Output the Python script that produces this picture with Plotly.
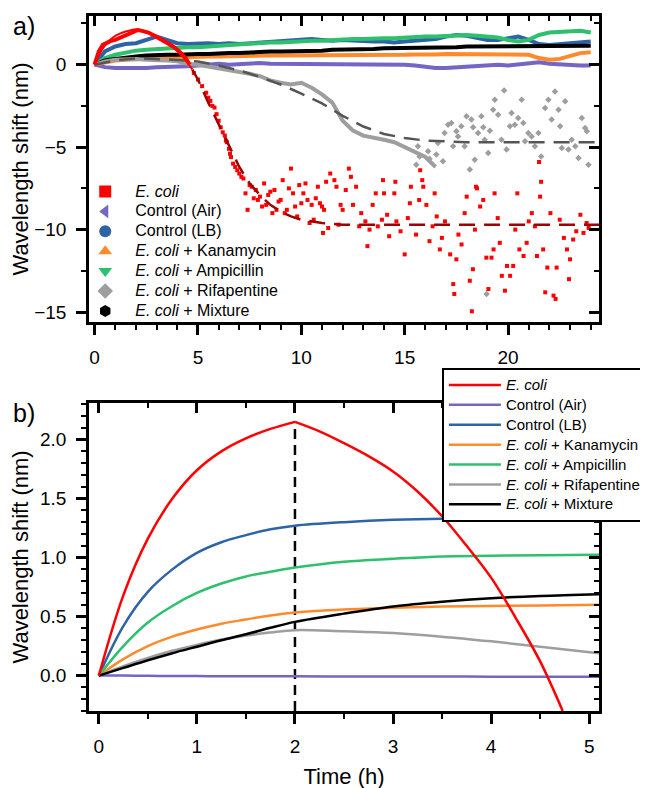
import plotly.graph_objects as go

# ---------- panel a: 24 h measurements ----------
t_grid = [0, 0.5, 1, 1.5, 2, 2.5, 3, 3.5, 4, 4.5, 5, 5.5, 6, 6.5, 7, 7.5, 8, 8.5, 9, 9.5,
          10, 10.5, 11, 11.5, 12, 12.5, 13, 13.5, 14, 14.5, 15, 15.5, 16, 16.5, 17, 17.5,
          18, 18.5, 19, 19.5, 20, 20.5, 21, 21.5, 22, 22.5, 23, 23.5, 24]

air = [0, -0.15, -0.2, -0.2, -0.25, -0.2, -0.15, -0.15, -0.1, -0.1, -0.05, 0, 0.05, 0, 0.05,
       0.05, 0.1, 0.05, 0.05, 0.05, 0, 0.05, 0.05, 0, 0.05, 0.05, 0, 0.05, 0, 0, 0, -0.05,
       -0.15, -0.2, -0.2, -0.15, -0.15, -0.1, 0, 0, -0.05, 0, 0.1, 0.15, 0.05, 0, 0, -0.05, -0.05]
lb = [0, 0.8, 1.1, 1.25, 1.3, 1.5, 1.7, 1.5, 1.3, 1.25, 1.3, 1.3, 1.25, 1.3, 1.25, 1.3, 1.3,
      1.35, 1.4, 1.45, 1.5, 1.55, 1.5, 1.45, 1.5, 1.45, 1.4, 1.4, 1.4, 1.35, 1.4, 1.45, 1.5,
      1.55, 1.7, 1.8, 1.75, 1.6, 1.5, 1.5, 1.6, 1.7, 1.5, 1.25, 1.2, 1.25, 1.3, 1.3, 1.4]
kan = [0, 0.15, 0.25, 0.3, 0.35, 0.38, 0.4, 0.42, 0.45, 0.48, 0.5, 0.5, 0.5, 0.52, 0.53, 0.55,
       0.55, 0.55, 0.55, 0.55, 0.55, 0.55, 0.55, 0.57, 0.55, 0.57, 0.6, 0.6, 0.6, 0.6, 0.6, 0.62,
       0.6, 0.62, 0.65, 0.65, 0.65, 0.65, 0.65, 0.65, 0.65, 0.65, 0.6, 0.4, 0.3, 0.35, 0.55, 0.7, 0.75]
amp = [0, 0.4, 0.6, 0.75, 0.85, 0.9, 0.95, 1.0, 1.0, 1.05, 1.05, 1.1, 1.1, 1.15, 1.2, 1.25, 1.3,
       1.35, 1.35, 1.4, 1.4, 1.45, 1.45, 1.5, 1.5, 1.55, 1.55, 1.6, 1.6, 1.6, 1.65, 1.65, 1.7, 1.7,
       1.75, 1.8, 1.8, 1.75, 1.7, 1.65, 1.5, 1.4, 1.5, 1.8, 1.95, 2.0, 2.0, 2.05, 1.95]
mix = [0, 0.25, 0.35, 0.45, 0.5, 0.55, 0.6, 0.6, 0.6, 0.65, 0.65, 0.65, 0.7, 0.7, 0.7, 0.75,
       0.75, 0.8, 0.8, 0.8, 0.85, 0.85, 0.85, 0.9, 0.9, 0.9, 0.95, 0.95, 1.0, 1.0, 1.0, 1.0, 1.05,
       1.05, 1.05, 1.05, 1.1, 1.1, 1.1, 1.1, 1.1, 1.1, 1.1, 1.15, 1.1, 1.15, 1.15, 1.15, 1.15]

# rifapentine: continuous part then scattered points
rif_line_t = t_grid[:34]
rif_line_v = [0, 0.2, 0.3, 0.35, 0.35, 0.3, 0.3, 0.25, 0.2, 0.05, 0, -0.1, -0.2, -0.35, -0.45,
              -0.55, -0.7, -0.95, -1.1, -1.2, -1.1, -1.4, -1.8, -2.3, -3.4, -4.0, -4.3, -4.4,
              -4.55, -4.7, -5.0, -5.3, -5.6, -6.2]
rif_pts_t = [15.56, 15.64, 15.72, 16.13, 16.2, 16.53, 16.61, 16.85, 16.93, 17.1, 17.26, 17.34,
             17.5, 17.58, 17.74, 17.9, 17.99, 18.15, 18.23, 18.31, 18.39, 18.55, 18.71, 18.8,
             18.87, 18.96, 19.04, 19.12, 19.28, 19.36, 19.52, 19.68, 19.81, 19.93, 20.09, 20.17,
             20.33, 20.49, 20.66, 20.74, 20.82, 20.98, 21.14, 21.3, 21.47, 21.6, 21.79, 21.95,
             22.11, 22.27, 22.44, 22.52, 22.6, 22.76, 22.92, 23.08, 23.25, 23.41, 23.57, 23.73,
             23.81, 23.89]
rif_pts_v = [-6.06, -4.95, -5.56, -5.25, -5.7, -5.45, -4.75, -5.86, -4.14, -3.64, -3.53, -4.95,
             -4.04, -4.35, -3.74, -4.95, -3.13, -6.36, -3.33, -3.8, -5.76, -4.14, -3.13, -3.8,
             -4.55, -13.9, -5.35, -4.0, -2.73, -2.12, -3.03, -4.55, -1.56, -5.15, -3.74, -2.93,
             -3.64, -3.23, -2.12, -3.53, -4.65, -4.14, -4.35, -4.95, -4.14, -5.56, -2.63, -2.12,
             -3.33, -1.62, -2.73, -3.74, -5.05, -2.22, -5.15, -4.55, -4.95, -5.66, -3.23, -3.84,
             -4.04, -6.06]

# E. coli: early band then scattered points
ecoli_band_t = [0, 0.2, 0.4, 0.6, 0.8, 1.0, 1.3, 1.6, 1.9, 2.1, 2.3, 2.6, 2.9, 3.2, 3.5, 3.8,
                4.1, 4.4, 4.6]
ecoli_band_v = [0, 0.8, 1.2, 1.35, 1.45, 1.5, 1.65, 1.8, 2.0, 2.1, 2.05, 1.95, 1.75, 1.55, 1.35,
                1.1, 0.8, 0.4, 0.0]
ecoli_pts_t = [4.8, 5.0, 5.2, 5.4, 5.5, 5.6, 5.7, 5.8, 5.9, 6.0, 6.1, 6.2, 6.3, 6.35, 6.4, 6.5,
               6.55, 6.6, 6.7, 6.8, 6.9, 7.0, 7.1, 7.2, 7.3, 7.4, 7.5, 7.6, 7.7, 7.8, 7.9, 8.0,
               8.1, 8.2, 8.3, 8.4, 8.5, 8.6, 8.7, 8.8, 8.9, 9.0, 9.1, 9.2, 9.3, 9.4, 9.5, 9.6,
               9.7, 9.8, 9.9, 10.0, 10.1, 10.2, 10.3, 10.4, 10.5, 10.6, 10.7, 10.8, 10.9, 11.0,
               11.05, 11.1, 11.2, 11.3, 11.4, 11.6, 11.7, 11.8, 11.9, 12.0, 12.15, 12.3, 12.4,
               12.5, 12.65, 12.8, 12.9, 13.1, 13.2, 13.3, 13.45, 13.6, 13.7, 13.9, 13.95, 14.0,
               14.15, 14.25, 14.5, 14.55, 14.6, 14.8, 15.0, 15.15, 15.25, 15.3, 15.55, 15.7,
               15.75, 15.85, 15.9, 16.05, 16.2, 16.35, 16.45, 16.55, 16.7, 16.8, 16.95, 17.2,
               17.35, 17.4, 17.5, 17.6, 17.75, 17.9, 18.0, 18.15, 18.25, 18.3, 18.4, 18.45, 18.5,
               18.65, 18.8, 18.95, 19.05, 19.2, 19.3, 19.35, 19.5, 19.6, 19.7, 19.85, 19.95, 20.1,
               20.25, 20.35, 20.45, 20.55, 20.75, 20.9, 21.0, 21.15, 21.3, 21.4, 21.5, 21.55,
               21.6, 21.7, 21.8, 21.9, 22.05, 22.2, 22.3, 22.35, 22.5, 22.7, 22.85, 22.95, 23.0,
               23.15, 23.3, 23.5, 23.65, 23.8, 23.9]
ecoli_pts_v = [-0.5, -0.9, -1.3, -1.7, -2.0, -2.2, -2.5, -2.6, -3.0, -3.4, -3.8, -4.1, -4.3,
               -4.6, -4.7, -5.1, -5.4, -5.6, -6.0, -6.2, -6.4, -6.6, -6.8, -6.9, -7.8, -8.8,
               -7.3, -7.4, -8.1, -7.6, -8.2, -8.0, -8.6, -7.2, -8.5, -7.9, -7.7, -9.0, -7.6,
               -8.8, -8.3, -8.2, -7.0, -9.0, -8.8, -7.5, -6.3, -7.8, -8.6, -9.2, -7.3, -8.4,
               -7.8, -7.2, -8.2, -9.6, -8.5, -9.4, -8.1, -7.4, -8.4, -8.6, -10.2, -8.8, -7.1,
               -9.9, -6.6, -7.0, -7.4, -9.7, -8.5, -8.8, -7.6, -6.3, -6.8, -8.5, -7.4, -9.8,
               -9.0, -9.5, -11.0, -10.0, -8.5, -7.8, -9.8, -9.4, -7.0, -7.8, -9.1, -10.4, -7.8,
               -7.1, -9.5, -10.1, -11.5, -9.3, -8.4, -7.4, -10.3, -8.2, -6.4, -7.0, -7.4, -8.5,
               -10.7, -9.8, -7.8, -9.2, -11.2, -10.5, -9.5, -11.5, -13.3, -13.9, -11.8, -10.3,
               -10.9, -9.0, -8.0, -13.1, -14.95, -12.4, -10.0, -7.4, -7.5, -8.6, -8.2, -11.7,
               -13.6, -11.7, -11.2, -7.8, -9.3, -10.8, -12.8, -13.7, -12.2, -12.8, -12.2, -10.0,
               -7.8, -11.2, -11.6, -10.8, -9.5, -9.0, -9.8, -11.6, -5.9, -8.0, -7.1, -11.2,
               -13.8, -12.3, -9.0, -14.0, -14.2, -12.3, -9.4, -10.5, -11.2, -13.0, -11.8, -10.6,
               -10.1, -9.1, -10.2, -9.6, -9.9]

# fitted trends in panel a
ecoli_tail_t = [4.73, 5, 5.5, 6, 6.5, 7, 7.5, 8, 8.5, 9, 9.5, 10, 11, 12, 13, 24.4]
ecoli_tail_v = [-0.3, -0.9, -2.3, -3.6, -5.0, -6.2, -7.2, -7.9, -8.5, -8.9, -9.2, -9.4, -9.6,
                -9.7, -9.7, -9.7]
rif_fit_t = [0, 1, 2, 3, 4, 5, 6, 7, 8, 9, 10, 11, 12, 13, 14, 15, 16, 18, 24.4]
rif_fit_v = [0, 0.26, 0.385, 0.36, 0.29, 0.19, -0.05, -0.35, -0.75, -1.2, -1.75, -2.35, -3.1,
             -3.75, -4.2, -4.45, -4.6, -4.7, -4.7]

# ---------- panel b: fits over first 5 h ----------
fit_t = [0, 0.25, 0.5, 0.75, 1, 1.25, 1.5, 1.75, 2, 2.5, 3, 3.5, 4, 4.5, 5.1]
ecoli_rise_t = [0, 0.25, 0.5, 0.75, 1, 1.25, 1.5, 1.75, 2]
ecoli_rise_v = [0, 0.68, 1.16, 1.50, 1.74, 1.90, 2.01, 2.09, 2.15]
ecoli_fall_t = [2, 2.25, 2.5, 2.75, 3, 3.25, 3.5, 3.75, 4, 4.25, 4.5, 4.73]
ecoli_fall_v = [2.15, 2.07, 1.97, 1.86, 1.73, 1.56, 1.35, 1.10, 0.83, 0.49, 0.12, -0.30]
air_fit = [0, 0, -0.002, -0.003, -0.004, -0.005, -0.005, -0.006, -0.006, -0.007, -0.008,
           -0.008, -0.009, -0.01, -0.01]
lb_fit = [0, 0.42, 0.71, 0.90, 1.04, 1.13, 1.19, 1.24, 1.27, 1.30, 1.32, 1.33, 1.33, 1.335, 1.335]
kan_fit = [0, 0.14, 0.25, 0.33, 0.39, 0.44, 0.475, 0.51, 0.535, 0.56, 0.575, 0.585, 0.59, 0.595, 0.60]
amp_fit = [0, 0.25, 0.45, 0.59, 0.70, 0.78, 0.84, 0.88, 0.915, 0.965, 0.99, 1.01, 1.015, 1.02, 1.025]
rif_fit_b = [0, 0.08, 0.15, 0.21, 0.26, 0.305, 0.34, 0.365, 0.385, 0.375, 0.36, 0.33, 0.29, 0.245, 0.19]
mix_fit = [0, 0.065, 0.13, 0.19, 0.245, 0.30, 0.35, 0.405, 0.455, 0.525, 0.585, 0.625, 0.655, 0.675, 0.69]
peak_t = 2
b_ymin = -0.3

names = ["<i>E. coli</i>", "Control (Air)", "Control (LB)", "<i>E. coli</i> + Kanamycin",
         "<i>E. coli</i> + Ampicillin", "<i>E. coli</i> + Rifapentine", "<i>E. coli</i> + Mixture"]
colors = ["#FF0000", "#7466C4", "#2E64A6", "#FF8A2B", "#2EC06C", "#9E9E9E", "#000000"]
symbols = ["square", "triangle-left", "circle", "triangle-up", "triangle-down", "diamond", "hexagon"]


def big(label, px=16):
    # legend rows stay 20px apart (small legend font) while the text itself is larger
    return '<span style="font-size:%gpx">' % px + label + "</span>"


fig = go.Figure()

# panel a data
for vals, c in [(air, colors[1]), (lb, colors[2]), (amp, colors[4]), (kan, colors[3]), (mix, colors[6])]:
    fig.add_trace(go.Scatter(x=t_grid, y=vals, mode="lines", line=dict(color=c, width=4),
                             showlegend=False, xaxis="x", yaxis="y"))
fig.add_trace(go.Scatter(x=rif_line_t, y=rif_line_v, mode="lines", line=dict(color=colors[5], width=4),
                         showlegend=False, xaxis="x", yaxis="y"))
fig.add_trace(go.Scatter(x=rif_pts_t, y=rif_pts_v, mode="markers",
                         marker=dict(color=colors[5], symbol="diamond", size=5),
                         showlegend=False, xaxis="x", yaxis="y"))
fig.add_trace(go.Scatter(x=rif_fit_t, y=rif_fit_v, mode="lines",
                         line=dict(color="#555555", width=2.5, dash="16px,9px"),
                         showlegend=False, xaxis="x", yaxis="y"))
fig.add_trace(go.Scatter(x=ecoli_band_t, y=ecoli_band_v, mode="lines", line=dict(color=colors[0], width=4),
                         showlegend=False, xaxis="x", yaxis="y"))
fig.add_trace(go.Scatter(x=ecoli_pts_t, y=ecoli_pts_v, mode="markers",
                         marker=dict(color=colors[0], symbol="square", size=4),
                         showlegend=False, xaxis="x", yaxis="y"))
fig.add_trace(go.Scatter(x=ecoli_tail_t, y=ecoli_tail_v, mode="lines",
                         line=dict(color="#A00000", width=2.5, dash="16px,9px"),
                         showlegend=False, xaxis="x", yaxis="y"))
fig.add_trace(go.Scatter(x=ecoli_rise_t + ecoli_fall_t[1:], y=ecoli_rise_v + ecoli_fall_v[1:],
                         mode="lines", line=dict(color=colors[0], width=2, shape="spline", smoothing=0.6),
                         showlegend=False, xaxis="x", yaxis="y"))

# legend entries for panel a
for n, c, s in zip(names, colors, symbols):
    fig.add_trace(go.Scatter(x=[None], y=[None], mode="markers", name=big(n),
                             marker=dict(color=c, symbol=s, size=12),
                             legend="legend", xaxis="x", yaxis="y"))

# panel b
fig.add_trace(go.Scatter(x=[peak_t, peak_t], y=[b_ymin, ecoli_rise_v[-1]], mode="lines",
                         line=dict(color="black", width=2.5, dash="10px,6px"),
                         showlegend=False, xaxis="x2", yaxis="y2"))
b_series = [air_fit, lb_fit, kan_fit, amp_fit, rif_fit_b, mix_fit]
for i, vals in enumerate(b_series):
    fig.add_trace(go.Scatter(x=fit_t, y=vals, mode="lines", name=big(names[i + 1], 15),
                             line=dict(color=colors[i + 1], width=2.5, shape="spline"),
                             legend="legend2", xaxis="x2", yaxis="y2", legendrank=i + 2))
fig.add_trace(go.Scatter(x=ecoli_rise_t, y=ecoli_rise_v, mode="lines", name=big(names[0], 15),
                         line=dict(color=colors[0], width=2.5, shape="spline"),
                         legend="legend2", xaxis="x2", yaxis="y2", legendrank=1))
fig.add_trace(go.Scatter(x=ecoli_fall_t, y=ecoli_fall_v, mode="lines",
                         line=dict(color=colors[0], width=2.5, shape="spline"),
                         showlegend=False, xaxis="x2", yaxis="y2"))

# empty traces so the mirrored (inside-tick) axes get drawn
for xa, ya in [("x3", "y"), ("x", "y3"), ("x4", "y2"), ("x2", "y4")]:
    fig.add_trace(go.Scatter(x=[], y=[], xaxis=xa, yaxis=ya, showlegend=False, hoverinfo="skip"))

font = "Arial, Liberation Sans, sans-serif"
base = dict(showline=True, linewidth=2.5, linecolor="black", mirror=True, ticks="outside",
            ticklen=10, tickwidth=2.5, tickcolor="black", showgrid=False, zeroline=False,
            tickfont=dict(size=19, color="black", family=font), ticklabelstandoff=6)
inner = dict(showline=False, ticks="inside", ticklen=10, tickwidth=2.5, tickcolor="black",
             showticklabels=False, showgrid=False, zeroline=False)
minor_out = dict(ticks="outside", ticklen=5, tickwidth=2, tickcolor="black")
minor_in = dict(ticks="inside", ticklen=5, tickwidth=2, tickcolor="black")

xa_range = [-0.27, 24.4]
ya_range = [-15.6, 2.95]
xb_range = [-0.1, 5.1]
yb_range = [-0.3, 2.31]
top_dom = [0.5597, 1]
bot_dom = [0, 0.4432]

fig.update_layout(
    template="simple_white",
    width=648, height=788,
    margin=dict(l=81, r=57, t=8, b=85, autoexpand=False),
    paper_bgcolor="white", plot_bgcolor="white",
    font=dict(family=font, color="black"),
    xaxis=dict(base, range=xa_range, tick0=0, dtick=5, anchor="y",
               minor=dict(minor_out, dtick=1)),
    yaxis=dict(base, range=ya_range, tick0=0, dtick=5, domain=top_dom, anchor="x",
               title=dict(text="Wavelength shift (nm)", font=dict(size=22), standoff=8),
               minor=dict(minor_out, dtick=2.5)),
    xaxis3=dict(inner, range=xa_range, tick0=0, dtick=5, overlaying="x", side="top", anchor="y",
                minor=dict(minor_in, dtick=1)),
    yaxis3=dict(inner, range=ya_range, tick0=0, dtick=5, overlaying="y", side="right", anchor="x",
                minor=dict(minor_in, dtick=2.5)),
    xaxis2=dict(base, range=xb_range, tick0=0, dtick=1, anchor="y2",
                title=dict(text="Time (h)", font=dict(size=22), standoff=14),
                minor=dict(minor_out, dtick=0.5)),
    yaxis2=dict(base, range=yb_range, tick0=0, dtick=0.5, tickformat=".1f", domain=bot_dom,
                anchor="x2",
                title=dict(text="Wavelength shift (nm)", font=dict(size=22), standoff=8),
                minor=dict(minor_out, dtick=0.1)),
    xaxis4=dict(inner, range=xb_range, tick0=0, dtick=1, overlaying="x2", side="top", anchor="y2",
                minor=dict(minor_in, dtick=0.5)),
    yaxis4=dict(inner, range=yb_range, tick0=0, dtick=0.5, overlaying="y2", side="right", anchor="x2",
                minor=dict(minor_in, dtick=0.1)),
    legend=dict(x=-0.027, xanchor="left", y=0.769, yanchor="top", bgcolor="rgba(0,0,0,0)",
                font=dict(size=13, family=font), itemwidth=50, tracegroupgap=0),
    legend2=dict(x=0.692, xanchor="left", y=0.4935, yanchor="top", bgcolor="white",
                 bordercolor="black", borderwidth=2, font=dict(size=13, family=font),
                 itemwidth=52, tracegroupgap=0),
    annotations=[
        dict(text="a)", x=-0.127, y=0.9856, xref="paper", yref="paper", showarrow=False,
             xanchor="center", yanchor="middle", font=dict(size=25)),
        dict(text="b)", x=-0.127, y=0.4288, xref="paper", yref="paper", showarrow=False,
             xanchor="center", yanchor="middle", font=dict(size=25)),
    ],
)

fig.write_html("out.html")
